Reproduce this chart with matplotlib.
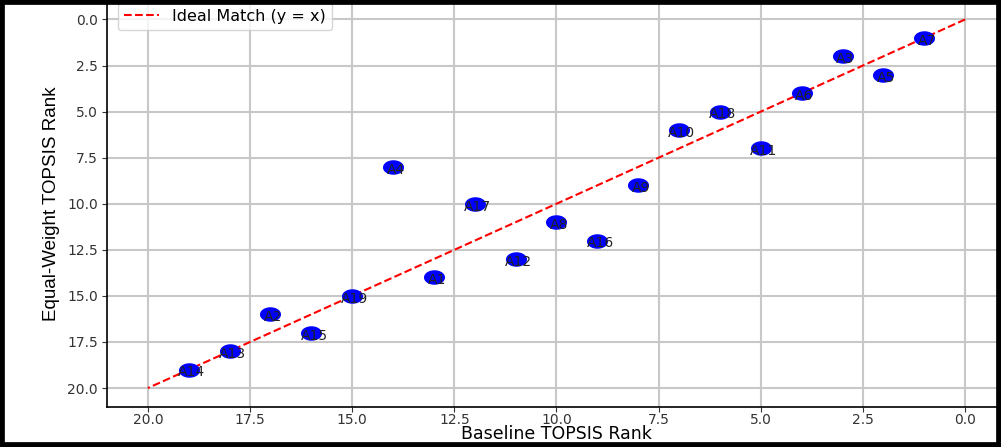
import matplotlib
matplotlib.use("Agg")
import matplotlib.pyplot as plt
import numpy as np
from matplotlib.path import Path
from matplotlib.patches import Rectangle

labels = ["A7", "A3", "A5", "A6", "A18", "A10", "A11", "A9", "A4", "A17",
          "A8", "A16", "A12", "A1", "A19", "A2", "A15", "A13", "A14"]
baseline_rank = [1, 3, 2, 4, 6, 7, 5, 8, 14, 12, 10, 9, 11, 13, 15, 17, 16, 18, 19]
equal_rank = [1, 2, 3, 4, 5, 6, 7, 9, 8, 10, 11, 12, 13, 14, 15, 16, 17, 18, 19]
ideal = [0, 20]
ticks = [0.0, 2.5, 5.0, 7.5, 10.0, 12.5, 15.0, 17.5, 20.0]

W, H = 1001, 447
fig = plt.figure(figsize=(W / 100, H / 100), dpi=100)
ax = fig.add_axes([107 / W, 40.5 / H, (1006 - 107) / W, (446 - 40.5) / H])

# wide ellipse marker (image is horizontally stretched)
t = np.linspace(0, 2 * np.pi, 60)
ell = Path(np.column_stack([1.5 * np.cos(t), np.sin(t)]))

ax.plot(ideal, ideal, linestyle="--", color="red", lw=1.5, label="Ideal Match (y = x)", zorder=2)
ax.scatter(baseline_rank, equal_rank, s=200, marker=ell, color="blue", zorder=3)
for lb, x, y in zip(labels, baseline_rank, equal_rank):
    ax.annotate(lb, (x, y), xytext=(2, -2), textcoords="offset points",
                ha="center", va="center", fontsize=10, color="#222222", zorder=4)

ax.set_xlim(21, -1)
ax.set_ylim(21, -1)
ax.set_xticks(ticks)
ax.set_yticks(ticks)
ax.set_xticklabels([f"{v:.1f}" for v in ticks])
ax.set_yticklabels([f"{v:.1f}" for v in ticks])
ax.tick_params(labelsize=10, colors="#333333", pad=3)
ax.tick_params(axis="x", pad=1)
ax.grid(True, color="#c8c8c8", lw=1.5)
ax.set_axisbelow(True)
ax.set_xlabel("Baseline TOPSIS Rank", fontsize=12.5, labelpad=-1)
ax.set_ylabel("Equal-Weight TOPSIS Rank", fontsize=13.5, family=["Liberation Sans", "DejaVu Sans"],
              labelpad=5)
for s in ["left", "bottom"]:
    ax.spines[s].set_linewidth(1.2)
leg = ax.legend(loc="upper left", fontsize=11.5, bbox_to_anchor=(0.01, 1.0), borderaxespad=0.1,
                handlelength=2.2)

fig.patches.append(Rectangle((0, 0), 1, 1, transform=fig.transFigure, fill=False,
                             edgecolor="black", lw=7, zorder=100))
fig.savefig("out.png", dpi=100)
